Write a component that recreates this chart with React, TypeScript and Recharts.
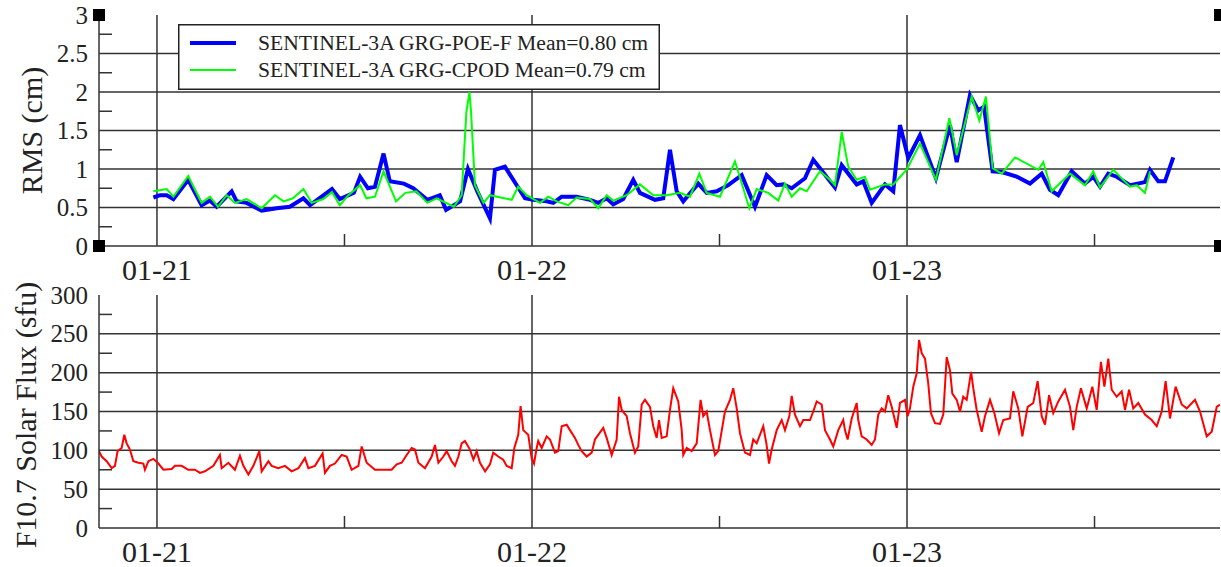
import { Legend, Line, LineChart, ReferenceDot, ReferenceLine, XAxis, YAxis } from "recharts";

// time axis is in hours from 01-21 00:00
const dayTicks = [0, 24, 48];
const dayLabels = ["01-21", "01-22", "01-23"];
const halfDayTicks = [12, 36, 60];
const xDomain: [number, number] = [-3.71, 68.03];

const rmsMajor = [0, 0.5, 1, 1.5, 2, 2.5, 3];
const rmsMinor = [0.25, 0.75, 1.25, 1.75, 2.25, 2.75];
const fluxMajor = [0, 50, 100, 150, 200, 250, 300];
const fluxMinor = [25, 75, 125, 175, 225, 275];

const seriesNames = ["SENTINEL-3A GRG-POE-F Mean=0.80 cm", "SENTINEL-3A GRG-CPOD Mean=0.79 cm"];

const poeF: [number, number][] = [
  [-0.23, 0.63], [0.19, 0.66], [0.62, 0.66], [1.05, 0.61], [2.0, 0.86], [2.86, 0.53], [3.39, 0.59], [3.82, 0.51],
  [4.78, 0.71], [5.1, 0.58], [5.74, 0.56], [6.7, 0.46], [7.66, 0.49], [8.5, 0.51], [9.37, 0.62], [9.8, 0.53],
  [11.2, 0.74], [11.7, 0.61], [12.6, 0.69], [13.0, 0.9], [13.5, 0.75], [13.95, 0.77], [14.5, 1.2], [14.9, 0.84],
  [15.8, 0.81], [16.4, 0.75], [17.3, 0.6], [18.1, 0.66], [18.5, 0.47], [19.0, 0.53], [19.4, 0.58], [19.9, 1.0],
  [20.5, 0.71], [21.31, 0.36], [21.63, 0.99], [22.27, 1.03], [23.55, 0.62], [24.08, 0.6], [24.94, 0.58],
  [25.36, 0.56], [25.9, 0.64], [26.86, 0.64], [27.71, 0.6], [28.24, 0.56], [28.78, 0.62], [29.2, 0.54],
  [29.84, 0.61], [30.48, 0.86], [30.91, 0.69], [31.87, 0.6], [32.4, 0.62], [32.83, 1.25], [33.26, 0.71],
  [33.68, 0.58], [34.64, 0.81], [35.18, 0.69], [35.82, 0.71], [36.56, 0.79], [37.42, 0.92], [38.27, 0.51],
  [39.02, 0.92], [39.66, 0.79], [40.08, 0.8], [40.62, 0.75], [41.47, 0.88], [42.0, 1.12], [42.43, 1.01],
  [43.07, 0.84], [43.39, 0.76], [43.82, 1.05], [44.78, 0.8], [45.2, 0.84], [45.74, 0.56], [46.59, 0.8],
  [47.12, 0.71], [47.55, 1.57], [48.08, 1.14], [48.83, 1.44], [49.85, 0.88], [50.75, 1.57], [51.18, 1.09],
  [52.03, 1.96], [52.56, 1.76], [52.93, 1.81], [53.48, 0.97], [54.06, 0.96], [55.02, 0.9], [55.87, 0.81],
  [56.62, 0.94], [57.15, 0.73], [57.68, 0.66], [58.54, 0.97], [59.39, 0.81], [59.92, 0.9], [60.35, 0.77],
  [60.88, 0.94], [61.42, 0.9], [62.27, 0.79], [63.23, 0.83], [63.55, 0.99], [64.08, 0.84], [64.51, 0.84],
  [65.04, 1.15],
];

const cpod: [number, number][] = [
  [-0.23, 0.71], [0.62, 0.74], [1.05, 0.64], [2.0, 0.91], [2.86, 0.56], [3.39, 0.64], [3.9, 0.51], [4.46, 0.66],
  [4.99, 0.56], [5.74, 0.61], [6.7, 0.49], [7.55, 0.66], [8.1, 0.58], [8.7, 0.62], [9.37, 0.74], [9.9, 0.56],
  [10.65, 0.61], [11.2, 0.7], [11.7, 0.53], [12.25, 0.66], [13.0, 0.79], [13.4, 0.62], [13.95, 0.64], [14.5, 0.97],
  [15.3, 0.58], [15.9, 0.69], [16.6, 0.71], [17.3, 0.56], [17.9, 0.62], [19.0, 0.51], [19.5, 0.66], [19.8, 1.74],
  [20.0, 2.0], [20.1, 1.74], [20.35, 0.79], [20.9, 0.56], [21.31, 0.66], [22.7, 0.6], [23.12, 0.77], [23.66, 0.66],
  [24.51, 0.56], [25.04, 0.64], [25.58, 0.58], [26.32, 0.53], [26.86, 0.63], [27.71, 0.61], [28.24, 0.49],
  [28.78, 0.66], [29.2, 0.59], [30.06, 0.66], [30.91, 0.8], [31.76, 0.66], [32.62, 0.66], [33.47, 0.69],
  [34.11, 0.64], [34.71, 0.94], [35.18, 0.69], [36.03, 0.64], [36.99, 1.1], [37.91, 0.49], [38.38, 0.74],
  [39.12, 0.69], [39.76, 0.59], [40.19, 0.81], [40.62, 0.64], [41.15, 0.75], [41.58, 0.71], [42.43, 0.97],
  [43.07, 0.86], [43.39, 0.79], [43.82, 1.48], [44.24, 1.03], [44.78, 0.86], [45.31, 0.9], [45.63, 0.73],
  [46.59, 0.8], [47.12, 0.8], [47.98, 0.99], [48.83, 1.33], [49.85, 0.86], [50.71, 1.66], [51.18, 1.18],
  [52.14, 1.94], [52.63, 1.63], [53.05, 1.94], [53.48, 1.01], [54.06, 0.94], [54.91, 1.15], [56.4, 0.99],
  [56.72, 1.09], [57.26, 0.71], [58.43, 0.94], [59.39, 0.79], [59.92, 0.97], [60.35, 0.76], [61.2, 0.99],
  [62.27, 0.77], [62.7, 0.79], [63.23, 0.69], [63.55, 0.97],
];

const solarFlux: [number, number][] = [
  [-3.71, 99], [-3.54, 92], [-3.22, 86], [-2.9, 77], [-2.69, 80], [-2.52, 99], [-2.26, 103], [-2.09, 120],
  [-1.94, 109], [-1.73, 101], [-1.51, 86], [-1.19, 84], [-0.87, 83], [-0.77, 75], [-0.55, 86], [-0.23, 89],
  [0.09, 83], [0.41, 75], [0.94, 76], [1.15, 80], [1.58, 80], [2.0, 75], [2.43, 75], [2.75, 71], [3.07, 73],
  [3.61, 80], [4.03, 94], [4.14, 77], [4.57, 84], [4.99, 75], [5.31, 93], [5.53, 80], [5.85, 69], [6.17, 80],
  [6.55, 99], [6.7, 73], [7.13, 86], [7.34, 80], [7.77, 77], [8.19, 80], [8.62, 73], [9.05, 77], [9.47, 90],
  [9.69, 77], [10.11, 80], [10.6, 96], [10.75, 71], [11.07, 80], [11.39, 83], [11.82, 94], [12.14, 92],
  [12.46, 75], [12.89, 80], [13.1, 105], [13.42, 84], [13.95, 75], [14.38, 75], [15.02, 75], [15.34, 82],
  [15.66, 84], [15.98, 94], [16.3, 103], [16.51, 101], [16.73, 84], [17.15, 77], [17.58, 92], [17.79, 107],
  [18.01, 84], [18.33, 92], [18.54, 99], [18.86, 86], [19.07, 80], [19.29, 92], [19.5, 109], [19.71, 112],
  [20.03, 101], [20.25, 88], [20.46, 99], [20.67, 84], [21.0, 73], [21.31, 82], [21.52, 97], [21.84, 92],
  [22.16, 88], [22.38, 80], [22.7, 77], [22.87, 103], [23.12, 120], [23.27, 157], [23.44, 126], [23.76, 120],
  [23.98, 90], [24.13, 83], [24.3, 103], [24.4, 112], [24.62, 103], [24.94, 118], [25.15, 114], [25.47, 97],
  [25.68, 99], [25.9, 131], [26.22, 133], [26.43, 126], [26.75, 116], [26.96, 107], [27.18, 99], [27.5, 92],
  [27.82, 97], [28.03, 114], [28.24, 120], [28.56, 129], [28.78, 116], [29.1, 94], [29.42, 114], [29.57, 169],
  [29.74, 152], [30.06, 144], [30.27, 122], [30.59, 97], [30.8, 105], [31.02, 159], [31.23, 165], [31.55, 156],
  [31.76, 131], [31.98, 116], [32.13, 139], [32.3, 116], [32.62, 118], [32.83, 152], [33.04, 180], [33.36, 163],
  [33.58, 126], [33.68, 94], [33.9, 103], [34.22, 99], [34.54, 109], [34.79, 165], [34.96, 144], [35.18, 150],
  [35.39, 126], [35.71, 94], [35.92, 99], [36.35, 150], [36.67, 165], [36.88, 180], [37.1, 154], [37.31, 122],
  [37.63, 97], [37.95, 94], [38.16, 114], [38.38, 109], [38.8, 131], [39.0, 109], [39.17, 83], [39.34, 101],
  [39.66, 126], [39.98, 139], [40.19, 126], [40.47, 144], [40.62, 170], [40.83, 146], [41.15, 131], [41.36, 139],
  [41.79, 139], [42.0, 150], [42.22, 163], [42.54, 159], [42.75, 126], [43.07, 114], [43.28, 105], [43.6, 126],
  [43.92, 139], [44.03, 126], [44.2, 114], [44.46, 141], [44.78, 161], [44.88, 139], [45.1, 118], [45.42, 114],
  [45.74, 107], [45.95, 114], [46.16, 146], [46.38, 154], [46.59, 150], [46.8, 171], [47.02, 156], [47.34, 129],
  [47.55, 161], [47.87, 165], [48.04, 144], [48.19, 154], [48.4, 182], [48.62, 199], [48.77, 242], [48.94, 225],
  [49.15, 218], [49.36, 186], [49.53, 148], [49.79, 135], [50.11, 134], [50.32, 146], [50.54, 220], [50.75, 203],
  [50.9, 173], [51.18, 165], [51.39, 150], [51.6, 169], [51.82, 165], [52.1, 201], [52.24, 180], [52.46, 152],
  [52.78, 124], [52.99, 144], [53.31, 165], [53.59, 148], [53.89, 122], [54.16, 139], [54.59, 141], [54.8, 176],
  [55.12, 154], [55.38, 118], [55.72, 156], [56.08, 161], [56.36, 189], [56.62, 144], [56.83, 133], [57.09, 171],
  [57.36, 148], [57.68, 163], [58.11, 178], [58.43, 156], [58.64, 126], [58.86, 156], [59.13, 180], [59.5, 154],
  [59.86, 182], [60.14, 152], [60.41, 214], [60.63, 182], [60.88, 218], [61.1, 178], [61.42, 169], [61.74, 176],
  [61.95, 152], [62.21, 178], [62.48, 154], [62.8, 161], [63.23, 146], [63.66, 139], [63.98, 131], [64.3, 150],
  [64.55, 189], [64.83, 141], [65.19, 182], [65.58, 159], [65.9, 154], [66.43, 165], [66.75, 150], [67.18, 118],
  [67.5, 124], [67.82, 156], [68.03, 159],
];

const FONT = '"Liberation Serif", "Times New Roman", Times, serif';
const INK = "#222";
const GRID = "#333";

const toRows = (pts: [number, number][]) => pts.map(([t, v]) => ({ t, v }));

const BottomTick = (p: any) => {
  const i = dayTicks.indexOf(p.payload.value);
  if (i >= 0) {
    return (
      <text x={p.x} y={p.y + 23} textAnchor="middle" dominantBaseline="central" fontSize={30} style={{ fontFamily: FONT }} fill={INK}>
        {dayLabels[i]}
      </text>
    );
  }
  return <line x1={p.x} x2={p.x} y1={p.y} y2={p.y - 12} stroke={GRID} strokeWidth={1.5} />;
};

const TopTick = (p: any) => <line x1={p.x} x2={p.x} y1={p.y} y2={p.y + 12} stroke={GRID} strokeWidth={1.5} />;

const LeftTick = (p: any) => {
  if (p.majors.includes(p.payload.value)) {
    return (
      <text x={p.x - 11} y={p.y} textAnchor="end" dominantBaseline="central" fontSize={25} style={{ fontFamily: FONT }} fill={INK}>
        {p.payload.value}
      </text>
    );
  }
  return <line x1={p.x} x2={p.x + 13} y1={p.y} y2={p.y} stroke={GRID} strokeWidth={1.5} />;
};

const RightTick = (p: any) => <line x1={p.x} x2={p.x - 10} y1={p.y} y2={p.y} stroke={GRID} strokeWidth={1.5} />;

const AxisTitle = ({ viewBox, text, dx, dy = 0 }: any) => {
  const cx = viewBox.x + dx;
  const cy = viewBox.y + viewBox.height / 2 + dy;
  return (
    <text x={cx} y={cy} transform={`rotate(-90 ${cx} ${cy})`} textAnchor="middle" dominantBaseline="central" fontSize={30} style={{ fontFamily: FONT }} fill={INK}>
      {text}
    </text>
  );
};

const Handle = (p: any) => <rect x={p.cx - 6} y={p.cy - 6} width={12} height={12} fill="#000" />;

const RmsLegend = () => (
  <svg width={482} height={66} style={{ display: "block" }}>
    <rect x={0.75} y={0.75} width={480.5} height={64.5} fill="#fff" stroke={INK} strokeWidth={1.5} />
    <line x1={12} x2={58} y1={19} y2={19} stroke="#0000ff" strokeWidth={4} />
    <line x1={12} x2={58} y1={46} y2={46} stroke="#00ff00" strokeWidth={2} />
    <text x={80} y={19} dominantBaseline="central" fontSize={21.6} style={{ fontFamily: FONT }} fill={INK}>{seriesNames[0]}</text>
    <text x={80} y={46} dominantBaseline="central" fontSize={21.6} style={{ fontFamily: FONT }} fill={INK}>{seriesNames[1]}</text>
  </svg>
);

const Frame = ({ major, minor, domain }: { major: number[]; minor: number[]; domain: [number, number] }) => [
  <XAxis key="xb" xAxisId="x" dataKey="t" type="number" domain={xDomain} allowDataOverflow ticks={[...dayTicks, ...halfDayTicks]}
    interval={0} tick={<BottomTick />} tickLine={false} tickSize={0} tickMargin={0} height={39}
    axisLine={{ stroke: GRID, strokeWidth: 1.5 }} />,
  <XAxis key="xt" xAxisId="top" orientation="top" dataKey="t" type="number" domain={xDomain} allowDataOverflow
    ticks={halfDayTicks} interval={0} tick={<TopTick />} tickLine={false} tickSize={0} tickMargin={0} height={0}
    axisLine={{ stroke: GRID, strokeWidth: 1.5 }} />,
  <YAxis key="yr" yAxisId="right" orientation="right" type="number" domain={domain} allowDataOverflow ticks={minor}
    interval={0} tick={<RightTick />} tickLine={false} tickSize={0} tickMargin={0} width={0}
    axisLine={{ stroke: GRID, strokeWidth: 1.5 }} />,
  ...dayTicks.map((d) => (
    <ReferenceLine key={`vx${d}`} x={d} xAxisId="x" yAxisId="left" stroke={GRID} strokeWidth={1.5} />
  )),
  ...major.slice(1, -1).map((v) => (
    <ReferenceLine key={`hy${v}`} y={v} xAxisId="x" yAxisId="left" stroke={GRID} strokeWidth={1.5} />
  )),
];

export default function App() {
  const poeRows = toRows(poeF);
  const cpodRows = toRows(cpod);
  const fluxRows = toRows(solarFlux);

  return (
    <div style={{ position: "absolute", left: 0, top: 0, width: 1221, height: 567, background: "#fff", fontFamily: FONT }}>
      <div style={{ position: "absolute", left: 0, top: 0 }}>
        <LineChart width={1221} height={300} margin={{ top: 15, right: 1, bottom: 15, left: 0 }}>
          <YAxis yAxisId="left" type="number" domain={[0, 3]} allowDataOverflow ticks={[...rmsMajor, ...rmsMinor]} interval={0}
            tick={<LeftTick majors={rmsMajor} />} tickLine={false} tickSize={0} tickMargin={0} width={99}
            axisLine={{ stroke: GRID, strokeWidth: 1.5 }}
            label={<AxisTitle text="RMS (cm)" dx={31} />} />
          {Frame({ major: rmsMajor, minor: rmsMinor, domain: [0, 3] })}
          <Line data={poeRows} dataKey="v" xAxisId="x" yAxisId="left" type="linear" stroke="#0000ff" strokeWidth={4}
            dot={false} isAnimationActive={false} name={seriesNames[0]} />
          <Line data={cpodRows} dataKey="v" xAxisId="x" yAxisId="left" type="linear" stroke="#00ff00" strokeWidth={2}
            dot={false} isAnimationActive={false} name={seriesNames[1]} />
          <ReferenceDot x={xDomain[0]} y={3} xAxisId="x" yAxisId="left" ifOverflow="visible" shape={<Handle />} />
          <ReferenceDot x={xDomain[0]} y={0} xAxisId="x" yAxisId="left" ifOverflow="visible" shape={<Handle />} />
          <ReferenceDot x={xDomain[1]} y={3} xAxisId="x" yAxisId="left" ifOverflow="visible" shape={<Handle />} />
          <ReferenceDot x={xDomain[1]} y={0} xAxisId="x" yAxisId="left" ifOverflow="visible" shape={<Handle />} />
          <Legend layout="vertical" align="center" verticalAlign="middle" content={<RmsLegend />}
            wrapperStyle={{ left: 178, top: 24, width: 482, height: 66 }} />
        </LineChart>
      </div>
      <div style={{ position: "absolute", left: 0, top: 280 }}>
        <LineChart width={1221} height={287} margin={{ top: 15, right: 1, bottom: 0, left: 0 }}>
          <YAxis yAxisId="left" type="number" domain={[0, 300]} allowDataOverflow ticks={[...fluxMajor, ...fluxMinor]} interval={0}
            tick={<LeftTick majors={fluxMajor} />} tickLine={false} tickSize={0} tickMargin={0} width={99}
            axisLine={{ stroke: GRID, strokeWidth: 1.5 }}
            label={<AxisTitle text="F10.7 Solar Flux (sfu)" dx={25} dy={3.5} />} />
          {Frame({ major: fluxMajor, minor: fluxMinor, domain: [0, 300] })}
          <Line data={fluxRows} dataKey="v" xAxisId="x" yAxisId="left" type="linear" stroke="#ff0000" strokeWidth={2}
            dot={false} isAnimationActive={false} />
        </LineChart>
      </div>
    </div>
  );
}
